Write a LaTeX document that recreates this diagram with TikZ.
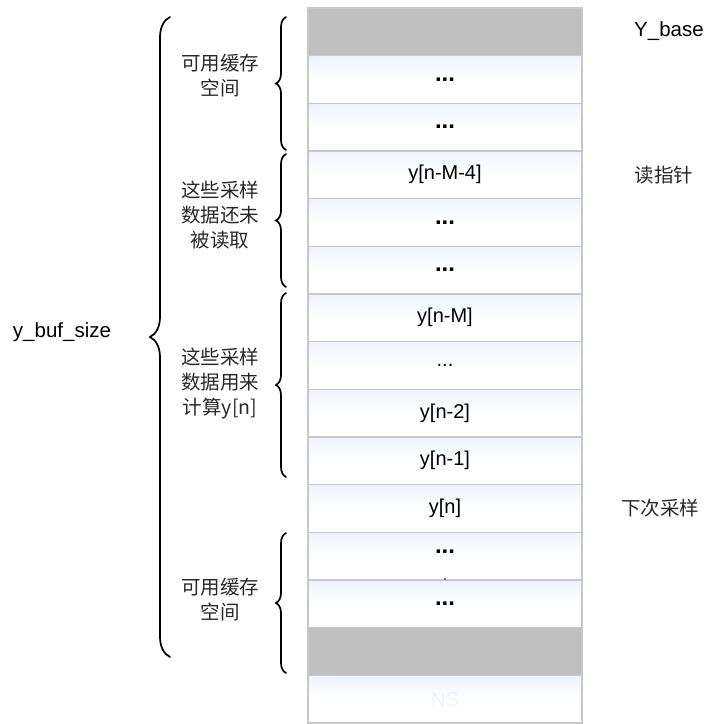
\documentclass[tikz,border=0pt]{standalone}
\usepackage{fontspec}
\setmainfont{Liberation Sans}
\newfontfamily\cjk{Noto Sans CJK SC}
\usetikzlibrary{decorations.pathreplacing}
\definecolor{cellline}{RGB}{200,200,200}
\definecolor{cellgray}{RGB}{192,192,192}
\definecolor{cellblue}{RGB}{238,243,251}
\definecolor{cjktext}{RGB}{40,40,40}
\definecolor{nstext}{RGB}{238,242,250}
\begin{document}
\begin{tikzpicture}[x=1pt,y=-1pt,
  cell/.style={draw=cellline, line width=1.3pt, minimum width=274pt, minimum height=47.67pt,
    inner sep=0pt, top color=cellblue, bottom color=white, middle color=white, font=\fontsize{20}{24}\selectfont},
  graycell/.style={cell, top color=cellgray, bottom color=cellgray, middle color=cellgray},
  bigdots/.style={cell, font=\fontsize{24}{24}\selectfont\bfseries},
  cjklabel/.style={font=\cjk\fontsize{19.5}{25}\selectfont, text=cjktext, align=center, inner sep=0pt},
  sidelabel/.style={font=\fontsize{20.5}{24}\selectfont, inner sep=0pt},
  bracepen/.style={decorate, line width=1.7pt, line cap=round},
]
\useasboundingbox (0,0) rectangle (706,724);
% cells
\node[graycell] (c0) at (445,31.8) {};
\node[bigdots] (c1) at (445,79.5) {...};
\node[bigdots] (c2) at (445,127.2) {...};
\node[cell] (c3) at (445,174.8) {y[n-M-4]};
\node[bigdots] (c4) at (445,222.5) {...};
\node[bigdots] (c5) at (445,270.2) {...};
\node[cell] (c6) at (445,317.8) {y[n-M]};
\node[cell] (c7) at (445,365.5) {...};
\node[cell] (c8) at (445,413.2) {y[n-2]};
\node[cell] (c9) at (445,460.8) {y[n-1]};
\node[cell] (c10) at (445,508.5) {y[n]};
\node[bigdots] (c11) at (445,556.2) {\raisebox{8pt}{...}};
\node[bigdots] (c12) at (445,603.8) {...};
\node[graycell] (c13) at (445,651.5) {};
\node[cell, text=nstext] (c14) at (445,699.2) {NS};
\node[circle, fill=black, inner sep=0pt, minimum size=1.6pt] (dot) at (445,579) {};
% right labels
\node[sidelabel] (ybase) at (669,31) {Y\_base};
\node[cjklabel] (rd) at (664,174.8) {读指针};
\node[cjklabel] (nx) at (660,508.5) {下次采样};
% left labels
\node[sidelabel] (ybuf) at (62,332) {y\_buf\_size};
\node[cjklabel] (t1) at (220,76) {可用缓存\\空间};
\node[cjklabel] (t2) at (220,215) {这些采样\\数据还未\\被读取};
\node[cjklabel] (t3) at (220,384) {这些采样\\数据用来\\计算y[n]};
\node[cjklabel] (t4) at (220,600) {可用缓存\\空间};
% braces
\coordinate (bigB) at (170,657);
\coordinate (bigT) at (170,17);
\draw[bracepen, decoration={brace, amplitude=20pt}] (bigB) -- (bigT);
\coordinate (b1B) at (286,150);
\coordinate (b1T) at (286,17);
\draw[bracepen, decoration={brace, amplitude=10pt}] (b1B) -- (b1T);
\coordinate (b2B) at (286,287);
\coordinate (b2T) at (286,154);
\draw[bracepen, decoration={brace, amplitude=10pt}] (b2B) -- (b2T);
\coordinate (b3B) at (286,477);
\coordinate (b3T) at (286,293);
\draw[bracepen, decoration={brace, amplitude=10pt}] (b3B) -- (b3T);
\coordinate (b4B) at (286,673);
\coordinate (b4T) at (286,533);
\draw[bracepen, decoration={brace, amplitude=10pt}] (b4B) -- (b4T);
\end{tikzpicture}
\end{document}
